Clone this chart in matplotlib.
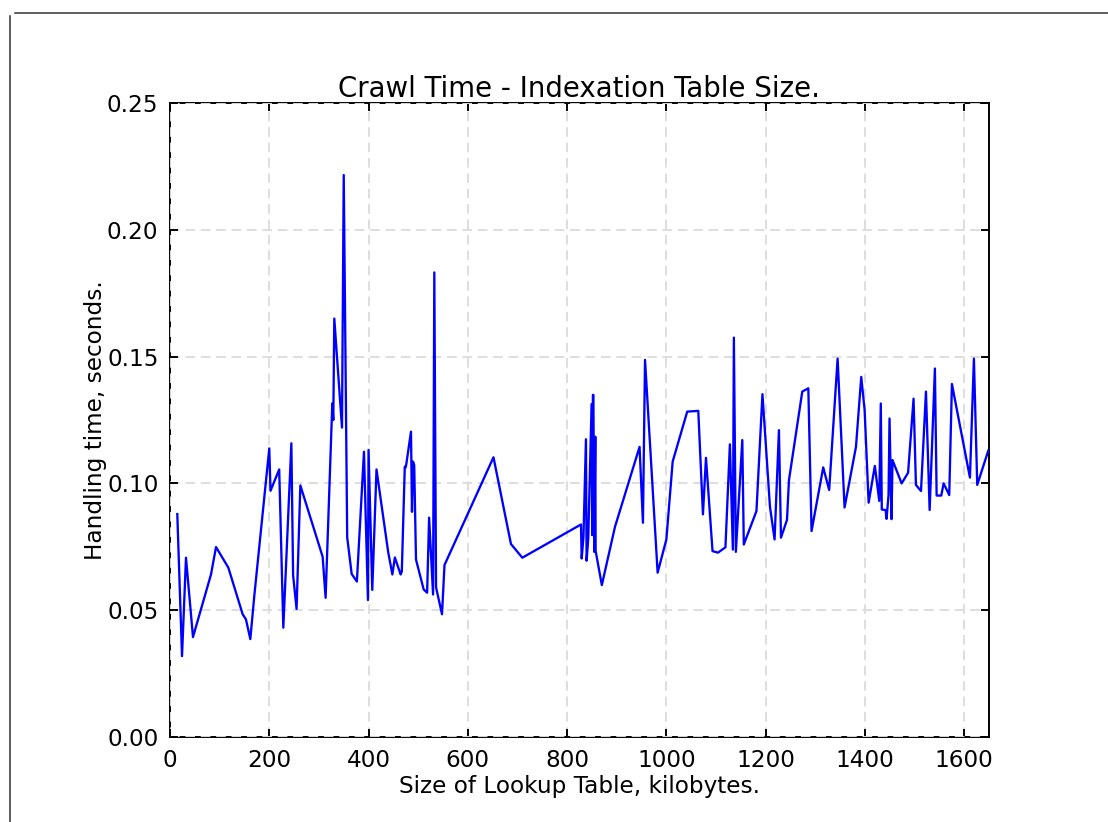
import matplotlib
matplotlib.use("Agg")
import matplotlib.pyplot as plt
from matplotlib.lines import Line2D

# table size (kB) vs handling time (s)
size_kb = [14.7, 24.2, 32.2, 46.3, 82.6, 92.7, 117.5, 146.4, 153, 161.8,
           170, 200, 202.5, 220, 228.3, 244.5, 248, 255, 262.6, 307.5,
           313.5, 327, 329, 331, 346.5, 350, 357, 366, 376.5, 390.8,
           398.8, 400, 407.5, 416, 439.5, 448, 453, 464.6, 467, 473,
           474.5, 476, 485.5, 487.5, 489.5, 492, 495.6, 511, 518, 522,
           530, 532.5, 536, 548, 553, 651.7, 686.9, 709.8, 828, 829.4,
           833, 838, 839.3, 842.6, 849.4, 850.6, 852, 853, 854.7, 856.8,
           857.5, 870, 896.5, 946, 952.8, 957, 982.4, 1000, 1012.7, 1042,
           1064.3, 1073.7, 1079.8, 1093, 1104, 1119, 1128, 1134, 1136, 1140,
           1153, 1156, 1181.5, 1193.6, 1208.7, 1218, 1226.8, 1230.9, 1243, 1247,
           1273.8, 1286, 1292.5, 1316, 1328, 1345, 1359, 1382, 1392.6, 1399.4,
           1407.5, 1420, 1428.9, 1432, 1434, 1441.7, 1443.6, 1447.6, 1449.6, 1453.6,
           1455.6, 1474, 1487, 1498, 1502.8, 1513, 1523, 1530.4, 1541, 1544.5,
           1553.8, 1558.6, 1569.9, 1575.3, 1611.6, 1619.6, 1626.3, 1648.5]
time_s = [0.0879, 0.0319, 0.0707, 0.0394, 0.0641, 0.0749, 0.0668, 0.0484, 0.0464, 0.0386,
          0.0560, 0.1138, 0.0971, 0.1055, 0.0431, 0.1158, 0.0638, 0.0505, 0.0992, 0.0711,
          0.0549, 0.1316, 0.1250, 0.1650, 0.1220, 0.2216, 0.0787, 0.0643, 0.0613, 0.1125,
          0.0540, 0.1132, 0.0580, 0.1055, 0.0730, 0.0641, 0.0708, 0.0641, 0.0652, 0.1066,
          0.1062, 0.1075, 0.1204, 0.0888, 0.1086, 0.1072, 0.0700, 0.0582, 0.0569, 0.0865,
          0.0562, 0.1832, 0.0590, 0.0484, 0.0678, 0.1103, 0.0761, 0.0707, 0.0838, 0.0704,
          0.0790, 0.1174, 0.0695, 0.0781, 0.1313, 0.0796, 0.1349, 0.1349, 0.0730, 0.1184,
          0.0734, 0.0599, 0.0829, 0.1144, 0.0845, 0.1487, 0.0648, 0.0779, 0.1086, 0.1283,
          0.1286, 0.0878, 0.1101, 0.0733, 0.0727, 0.0748, 0.1154, 0.0739, 0.1575, 0.0730,
          0.1171, 0.0759, 0.0891, 0.1352, 0.0908, 0.0779, 0.1210, 0.0786, 0.0856, 0.1013,
          0.1362, 0.1375, 0.0812, 0.1063, 0.0974, 0.1492, 0.0905, 0.1144, 0.1420, 0.1290,
          0.0924, 0.1069, 0.0931, 0.1315, 0.0897, 0.0895, 0.0860, 0.0954, 0.1256, 0.0859,
          0.1092, 0.1000, 0.1042, 0.1334, 0.0994, 0.0970, 0.1362, 0.0895, 0.1453, 0.0952,
          0.0952, 0.1000, 0.0954, 0.1392, 0.1023, 0.1492, 0.0994, 0.1129]

x_ticks = [0, 200, 400, 600, 800, 1000, 1200, 1400, 1600]
y_ticks = [0.00, 0.05, 0.10, 0.15, 0.20, 0.25]

plt.rcParams['font.size'] = 12
fig = plt.figure(figsize=(1108 / 138.5, 822 / 138.5), dpi=138.5)
ax = fig.add_axes([170 / 1108, 1 - 737 / 822, (989 - 170) / 1108, (737 - 103) / 822])

ax.plot(size_kb, time_s, color='#0000ff', linewidth=1.2, zorder=3)

ax.set_xlim(0, 1650)
ax.set_ylim(0, 0.25)
ax.set_xticks(x_ticks)
ax.set_yticks(y_ticks)
ax.set_yticklabels(['%.2f' % v for v in y_ticks])
ax.tick_params(direction='in', top=True, right=True, length=4, width=1, labelsize=12, pad=6)
ax.grid(True, color='#dddddd', linestyle=(0, (5, 3)), linewidth=1.0)
ax.set_axisbelow(False)
for s in ax.spines.values():
    s.set_linewidth(1.0)

ax.set_title('Crawl Time - Indexation Table Size.', fontsize=14.4, pad=3)
ax.set_xlabel('Size of Lookup Table, kilobytes.', labelpad=2)
ax.set_ylabel('Handling time, seconds.', labelpad=0)

# screenshot frame lines
fig.add_artist(Line2D([15 / 1108, 1], [1 - 13 / 822, 1 - 13 / 822], color='#333333', linewidth=0.8))
fig.add_artist(Line2D([10 / 1108, 10 / 1108], [0, 1 - 16 / 822], color='#333333', linewidth=0.8))

fig.savefig('out.png', dpi=138.5)
